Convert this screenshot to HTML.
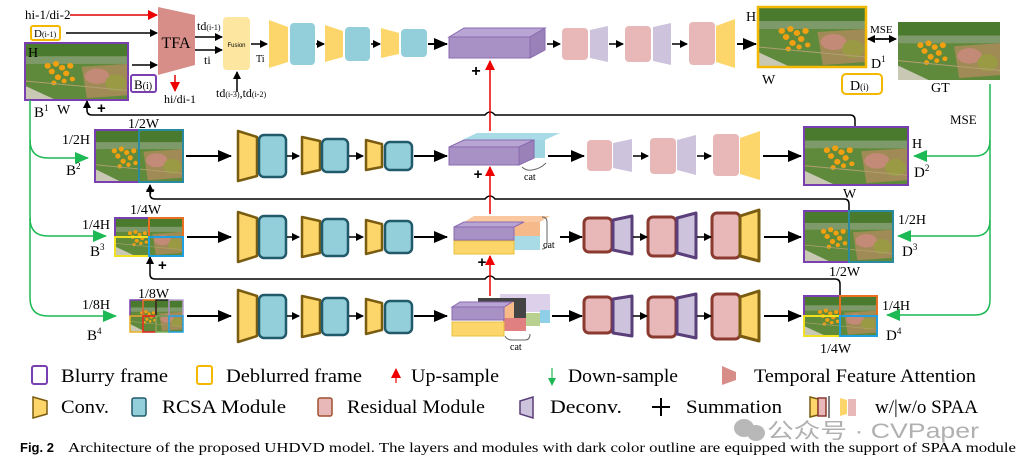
<!DOCTYPE html>
<html><head><meta charset="utf-8"><style>
html,body{margin:0;padding:0;background:#fff;}
svg{display:block;font-family:"Liberation Serif",serif;}
</style></head><body>
<svg width="1033" height="468" viewBox="0 0 1033 468" xmlns="http://www.w3.org/2000/svg">
<defs>
<marker id="ab" markerWidth="8" markerHeight="8" refX="7" refY="4" orient="auto" markerUnits="userSpaceOnUse"><path d="M0,0 L8,4 L0,8 Z" fill="#000"/></marker>
<marker id="abL" markerWidth="14" markerHeight="12" refX="13" refY="6" orient="auto" markerUnits="userSpaceOnUse"><path d="M0,0 L14,6 L0,12 Z" fill="#000"/></marker>
<marker id="ar" markerWidth="10" markerHeight="10" refX="9" refY="5" orient="auto" markerUnits="userSpaceOnUse"><path d="M0,0 L10,5 L0,10 Z" fill="#e00"/></marker>
<marker id="ag" markerWidth="14" markerHeight="12" refX="13" refY="6" orient="auto" markerUnits="userSpaceOnUse"><path d="M0,0 L14,6 L0,12 Z" fill="#1db954"/></marker>
<symbol id="ph" viewBox="0 0 100 60" preserveAspectRatio="none">
<rect width="100" height="60" fill="#5f8a3c"/>
<rect width="100" height="14" fill="#4a7a2e"/>
<rect y="14" width="100" height="8" fill="#7f9a6a"/>
<path d="M0,45 L30,60 L0,60Z" fill="#c8c8b4"/>
<path d="M55,25 L100,22 L100,55 L60,58Z" fill="#a08a55"/>
<ellipse cx="70" cy="35" rx="12" ry="8" fill="#c48a78"/>
<ellipse cx="88" cy="42" rx="10" ry="9" fill="#9a9a45"/>
<g fill="#f0a010">
<circle cx="30" cy="22" r="3"/><circle cx="36" cy="26" r="3"/><circle cx="26" cy="30" r="3"/><circle cx="40" cy="32" r="3"/><circle cx="32" cy="36" r="3"/><circle cx="44" cy="24" r="3"/><circle cx="22" cy="24" r="3"/><circle cx="38" cy="40" r="2.5"/><circle cx="28" cy="42" r="2.5"/><circle cx="46" cy="38" r="2.5"/></g>
<path d="M0,40 L100,50" stroke="#b0a070" stroke-width="1"/>
</symbol>
</defs>

<!-- Row 1 inputs -->
<text x="25" y="19" font-size="13">hi-1/di-2</text>
<line x1="70" y1="15" x2="157" y2="15" stroke="#d00" stroke-width="1.5" marker-end="url(#ar)"/>
<rect x="31" y="26" width="29" height="14" rx="2" fill="none" stroke="#f5b800" stroke-width="2"/>
<text x="34" y="37" font-size="11">D<tspan font-size="8">(i-1)</tspan></text>
<line x1="66" y1="33" x2="157" y2="33" stroke="#000" stroke-width="1.5" marker-end="url(#ab)"/>
<use href="#ph" x="25" y="43" width="103" height="57"/>
<rect x="25" y="43" width="103" height="57" fill="none" stroke="#7a3fb0" stroke-width="2"/>
<text x="28" y="57" font-size="14">H</text>
<line x1="132" y1="65" x2="157" y2="65" stroke="#000" stroke-width="1.5" marker-end="url(#ab)"/>
<rect x="131" y="75" width="25" height="17" rx="2" fill="none" stroke="#7a3fb0" stroke-width="2"/>
<text x="134" y="89" font-size="13">B<tspan font-size="10">(i)</tspan></text>
<text x="34" y="117" font-size="15">B<tspan font-size="9" dy="-6">1</tspan></text>
<text x="57" y="114" font-size="14">W</text>
<!-- TFA -->
<polygon points="158,7 195,15 195,65 158,75" fill="#d88e88"/>
<text x="176" y="48" font-size="16" text-anchor="middle">TFA</text>
<line x1="195" y1="37" x2="222" y2="37" stroke="#000" stroke-width="1.5" marker-end="url(#ab)"/>
<line x1="195" y1="50" x2="222" y2="50" stroke="#000" stroke-width="1.5" marker-end="url(#ab)"/>
<text x="197" y="30" font-size="12">td<tspan font-size="8">(i-1)</tspan></text>
<text x="204" y="64" font-size="12">ti</text>
<line x1="175" y1="75" x2="175" y2="91" stroke="#d00" stroke-width="1.5" marker-end="url(#ar)"/>
<text x="164" y="103" font-size="12">hi/di-1</text>
<rect x="223" y="17" width="27" height="53" rx="4" fill="#fde7a0"/>
<text x="236.5" y="47" font-size="6" text-anchor="middle" font-family="Liberation Sans,sans-serif">Fusion</text>
<line x1="237" y1="92" x2="237" y2="72" stroke="#000" stroke-width="1.5" marker-end="url(#ab)"/>
<text x="216" y="97" font-size="12">td<tspan font-size="8">(i-3)</tspan>,td<tspan font-size="8">(i-2)</tspan></text>
<line x1="251" y1="44" x2="267" y2="44" stroke="#000" stroke-width="1.5" marker-end="url(#ab)"/>
<text x="256" y="62" font-size="10">Ti</text>

<!-- Row1 encoder light -->
<g>
<polygon points="269,20 288,27 288,62 269,68" fill="#fcd66a"/>
<rect x="290" y="23" width="25" height="42" rx="4" fill="#93cfda"/>
<line x1="316" y1="44" x2="324" y2="44" stroke="#000" stroke-width="1.5" marker-end="url(#ab)"/>
<polygon points="325,25 343,31 343,57 325,62" fill="#fcd66a"/>
<rect x="345" y="27" width="25" height="34" rx="4" fill="#93cfda"/>
<line x1="371" y1="44" x2="380" y2="44" stroke="#000" stroke-width="1.5" marker-end="url(#ab)"/>
<polygon points="381,28 399,33 399,54 381,58" fill="#fcd66a"/>
<rect x="401" y="29" width="26" height="28" rx="4" fill="#93cfda"/>
<line x1="428" y1="44" x2="447" y2="44" stroke="#000" stroke-width="2" marker-end="url(#abL)"/>
</g>
<!-- Row1 cube -->
<polygon points="449,37 464,28 545,28 530,37" fill="#b9a5d3" stroke="#8a6bb0"/>
<rect x="449" y="37" width="81" height="21" fill="#a891c4" stroke="#8a6bb0"/>
<polygon points="530,37 545,28 545,50 530,58" fill="#9a82b8" stroke="#8a6bb0"/>
<text x="476" y="76" font-size="16" font-weight="bold" text-anchor="middle" font-family="Liberation Sans,sans-serif">+</text>
<line x1="547" y1="44" x2="560" y2="44" stroke="#000" stroke-width="1.5" marker-end="url(#ab)"/>
<!-- Row1 decoder light -->
<rect x="562" y="28" width="26" height="32" rx="4" fill="#e8b8b8"/>
<polygon points="590,30 608,26 608,62 590,58" fill="#cdc3dc"/>
<line x1="609" y1="44" x2="623" y2="44" stroke="#000" stroke-width="1.5" marker-end="url(#ab)"/>
<rect x="625" y="26" width="26" height="36" rx="4" fill="#e8b8b8"/>
<polygon points="653,27 671,23 671,65 653,61" fill="#cdc3dc"/>
<line x1="672" y1="44" x2="687" y2="44" stroke="#000" stroke-width="1.5" marker-end="url(#ab)"/>
<rect x="689" y="22" width="26" height="43" rx="4" fill="#e8b8b8"/>
<polygon points="716,26 735,19 735,68 716,62" fill="#fcd66a"/>
<line x1="737" y1="44" x2="756" y2="44" stroke="#000" stroke-width="2" marker-end="url(#abL)"/>
<!-- D1 & GT -->
<use href="#ph" x="758" y="7" width="108" height="60"/>
<rect x="758" y="7" width="108" height="60" fill="none" stroke="#f5b800" stroke-width="2.5"/>
<text x="746" y="21" font-size="14">H</text>
<text x="762" y="84" font-size="14">W</text>
<text x="871" y="68" font-size="14">D<tspan font-size="9" dy="-6">1</tspan></text>
<rect x="842" y="74" width="40" height="20" rx="4" fill="none" stroke="#f5b800" stroke-width="2"/>
<text x="850" y="90" font-size="14">D<tspan font-size="9">(i)</tspan></text>
<text x="870" y="33" font-size="11">MSE</text>
<line x1="876" y1="39" x2="896" y2="39" stroke="#000" stroke-width="1.5" marker-end="url(#ab)"/>
<line x1="890" y1="39" x2="868" y2="39" stroke="#000" stroke-width="1.5" marker-end="url(#ab)"/>
<use href="#ph" x="898" y="22" width="102" height="58"/>
<text x="931" y="92" font-size="14">GT</text>

<!-- Feedback lines -->
<g fill="none" stroke="#000" stroke-width="1.5">
<path d="M855,127 V120 Q855,115 850,115 H495 Q490,109 485,115 H92 Q87,115 87,110 V101" marker-end="url(#ab)"/>
<path d="M849,210 V204 Q849,199 844,199 H495 Q490,193 485,199 H155 Q150,199 150,194 V185" marker-end="url(#ab)"/>
<path d="M840,296 V284 Q840,279 835,279 H495 Q490,273 485,279 H155 Q150,279 150,274 V257" marker-end="url(#ab)"/>
</g>
<text x="97" y="113" font-size="15" font-weight="bold" font-family="Liberation Sans,sans-serif">+</text>
<text x="146" y="195" font-size="15" font-weight="bold" font-family="Liberation Sans,sans-serif">+</text>
<text x="158" y="270" font-size="15" font-weight="bold" font-family="Liberation Sans,sans-serif">+</text>
<!-- Red upsample arrows -->
<line x1="490" y1="131" x2="490" y2="61" stroke="#e00" stroke-width="1.5" marker-end="url(#ar)"/>
<line x1="490" y1="214" x2="490" y2="167" stroke="#e00" stroke-width="1.5" marker-end="url(#ar)"/>
<line x1="490" y1="296" x2="490" y2="256" stroke="#e00" stroke-width="1.5" marker-end="url(#ar)"/>
<text x="478" y="179" font-size="15" font-weight="bold" text-anchor="middle" font-family="Liberation Sans,sans-serif">+</text>
<text x="482" y="267" font-size="15" font-weight="bold" text-anchor="middle" font-family="Liberation Sans,sans-serif">+</text>

<!-- Green lines -->
<g fill="none" stroke="#1db954" stroke-width="1.5">
<path d="M30,100 V298 Q30,316 48,316 H116" marker-end="url(#ag)"/>
<path d="M30,140 Q30,158 48,158 H88" marker-end="url(#ag)"/>
<path d="M30,218 Q30,236 48,236 H106" marker-end="url(#ag)"/>
<path d="M990,84 V300 Q990,315 975,315 H887" marker-end="url(#ag)"/>
<path d="M990,140 Q990,156 975,156 H914" marker-end="url(#ag)"/>
<path d="M990,220 Q990,236 975,236 H898" marker-end="url(#ag)"/>
</g>
<text x="950" y="124" font-size="13">MSE</text>

<!-- Row 2 -->
<text x="128" y="128" font-size="14">1/2W</text>
<text x="62" y="144" font-size="14">1/2H</text>
<text x="66" y="175" font-size="15">B<tspan font-size="9" dy="-6">2</tspan></text>
<use href="#ph" x="95" y="130" width="88" height="52"/>
<rect x="95" y="130" width="44" height="52" fill="none" stroke="#7a3fb0" stroke-width="2"/>
<rect x="139" y="130" width="44" height="52" fill="none" stroke="#2a8aa0" stroke-width="2"/>
<line x1="186" y1="156" x2="231" y2="156" stroke="#000" stroke-width="2" marker-end="url(#abL)"/>
<g stroke-width="2.5" stroke-linejoin="round">
<polygon points="238,131 257,137 257,176 238,181" fill="#fcd66a" stroke="#7a5c10"/>
<rect x="259" y="135" width="27" height="42" rx="5" fill="#93cfda" stroke="#215a6a"/>
<polygon points="302,137 320,141 320,170 302,174" fill="#fcd66a" stroke="#7a5c10"/>
<rect x="322" y="139" width="26" height="33" rx="5" fill="#93cfda" stroke="#215a6a"/>
<polygon points="366,140 382,144 382,167 366,170" fill="#fcd66a" stroke="#7a5c10"/>
<rect x="385" y="142" width="27" height="28" rx="5" fill="#93cfda" stroke="#215a6a"/>
</g>
<line x1="287" y1="156" x2="299" y2="156" stroke="#000" stroke-width="1.5" marker-end="url(#ab)"/>
<line x1="349" y1="156" x2="363" y2="156" stroke="#000" stroke-width="1.5" marker-end="url(#ab)"/>
<line x1="414" y1="156" x2="447" y2="156" stroke="#000" stroke-width="2" marker-end="url(#abL)"/>
<!-- row2 cube -->
<polygon points="462,140 477,133 560,133 545,140" fill="#a9dbe6"/>
<rect x="462" y="140" width="83" height="18" fill="#9fd6e2"/>
<polygon points="449,147 464,140 534,140 519,147" fill="#b9a5d3" stroke="#8a6bb0"/>
<rect x="449" y="147" width="70" height="18" fill="#a891c4" stroke="#8a6bb0"/>
<polygon points="519,147 534,140 534,158 519,165" fill="#9a82b8" stroke="#8a6bb0"/>
<path d="M522,167 Q526,171 532,170 Q540,169 546,163" fill="none" stroke="#666"/>
<text x="524" y="180" font-size="10">cat</text>
<line x1="548" y1="156" x2="584" y2="156" stroke="#000" stroke-width="2" marker-end="url(#abL)"/>
<rect x="587" y="140" width="25" height="31" rx="4" fill="#e8b8b8"/>
<polygon points="613,143 632,139 632,172 613,168" fill="#cdc3dc"/>
<line x1="633" y1="156" x2="648" y2="156" stroke="#000" stroke-width="1.5" marker-end="url(#ab)"/>
<rect x="650" y="138" width="26" height="36" rx="4" fill="#e8b8b8"/>
<polygon points="677,140 696,135 696,175 677,170" fill="#cdc3dc"/>
<line x1="697" y1="156" x2="711" y2="156" stroke="#000" stroke-width="1.5" marker-end="url(#ab)"/>
<rect x="713" y="134" width="26" height="42" rx="4" fill="#e8b8b8"/>
<polygon points="740,138 760,131 760,180 740,174" fill="#fcd66a"/>
<line x1="763" y1="156" x2="801" y2="156" stroke="#000" stroke-width="2" marker-end="url(#abL)"/>
<use href="#ph" x="804" y="127" width="104" height="58"/>
<rect x="804" y="127" width="104" height="58" fill="none" stroke="#7a3fb0" stroke-width="2"/>
<text x="912" y="148" font-size="14">H</text>
<text x="914" y="177" font-size="15">D<tspan font-size="9" dy="-6">2</tspan></text>
<text x="843" y="198" font-size="14">W</text>

<!-- Row 3 -->
<text x="130" y="214" font-size="14">1/4W</text>
<text x="82" y="229" font-size="14">1/4H</text>
<text x="90" y="256" font-size="15">B<tspan font-size="9" dy="-6">3</tspan></text>
<use href="#ph" x="115" y="218" width="68" height="38"/>
<rect x="115" y="218" width="34" height="19" fill="none" stroke="#7a3fb0" stroke-width="2"/>
<rect x="149" y="218" width="34" height="19" fill="none" stroke="#e87020" stroke-width="2"/>
<rect x="115" y="237" width="34" height="19" fill="none" stroke="#f0e020" stroke-width="2"/>
<rect x="149" y="237" width="34" height="19" fill="none" stroke="#20a0e0" stroke-width="2"/>
<line x1="187" y1="237" x2="231" y2="237" stroke="#000" stroke-width="2" marker-end="url(#abL)"/>
<g stroke-width="2.5" stroke-linejoin="round">
<polygon points="238,212 257,218 257,256 238,262" fill="#fcd66a" stroke="#7a5c10"/>
<rect x="259" y="216" width="27" height="42" rx="5" fill="#93cfda" stroke="#215a6a"/>
<polygon points="302,217 320,221 320,253 302,257" fill="#fcd66a" stroke="#7a5c10"/>
<rect x="322" y="219" width="26" height="37" rx="5" fill="#93cfda" stroke="#215a6a"/>
<polygon points="366,220 382,224 382,250 366,254" fill="#fcd66a" stroke="#7a5c10"/>
<rect x="385" y="221" width="27" height="32" rx="5" fill="#93cfda" stroke="#215a6a"/>
</g>
<line x1="287" y1="237" x2="299" y2="237" stroke="#000" stroke-width="1.5" marker-end="url(#ab)"/>
<line x1="349" y1="237" x2="363" y2="237" stroke="#000" stroke-width="1.5" marker-end="url(#ab)"/>
<line x1="414" y1="237" x2="447" y2="237" stroke="#000" stroke-width="2" marker-end="url(#abL)"/>
<!-- row3 stack -->
<polygon points="464,222 474,216 550,216 540,222" fill="#f9c8a0"/>
<rect x="464" y="222" width="76" height="14" fill="#f6b98a"/>
<rect x="464" y="236" width="76" height="14" fill="#a9dbe6"/>
<polygon points="454,227 464,222 524,222 514,227" fill="#b9a5d3" stroke="#8a6bb0"/>
<rect x="454" y="227" width="60" height="13" fill="#a891c4" stroke="#8a6bb0"/>
<rect x="454" y="241" width="60" height="13" fill="#fcd66a" stroke="#e8c040"/>
<path d="M542,217 Q547,217 547,222 V244 Q547,249 542,249" fill="none" stroke="#666"/>
<text x="543" y="248" font-size="10">cat</text>
<line x1="560" y1="237" x2="582" y2="237" stroke="#000" stroke-width="2" marker-end="url(#abL)"/>
<g stroke-width="3" stroke-linejoin="round">
<rect x="584" y="218" width="28" height="34" rx="5" fill="#e8b8b8" stroke="#8b3a30"/>
<polygon points="613,220 632,216 632,254 613,250" fill="#cdc3dc" stroke="#5a3f7a"/>
<rect x="648" y="217" width="28" height="39" rx="5" fill="#e8b8b8" stroke="#8b3a30"/>
<polygon points="677,218 696,213 696,258 677,253" fill="#cdc3dc" stroke="#5a3f7a"/>
<rect x="712" y="213" width="28" height="45" rx="5" fill="#e8b8b8" stroke="#8b3a30"/>
<polygon points="740,216 759,210 759,261 740,256" fill="#fcd66a" stroke="#7a5c10"/>
</g>
<line x1="633" y1="237" x2="647" y2="237" stroke="#000" stroke-width="1.5" marker-end="url(#ab)"/>
<line x1="697" y1="237" x2="711" y2="237" stroke="#000" stroke-width="1.5" marker-end="url(#ab)"/>
<line x1="764" y1="237" x2="801" y2="237" stroke="#000" stroke-width="2" marker-end="url(#abL)"/>
<use href="#ph" x="804" y="211" width="89" height="51"/>
<rect x="804" y="211" width="45" height="51" fill="none" stroke="#7a3fb0" stroke-width="2"/>
<rect x="849" y="211" width="44" height="51" fill="none" stroke="#2a8aa0" stroke-width="2"/>
<text x="898" y="224" font-size="14">1/2H</text>
<text x="902" y="256" font-size="15">D<tspan font-size="9" dy="-6">3</tspan></text>
<text x="829" y="276" font-size="14">1/2W</text>

<!-- Row 4 -->
<text x="138" y="298" font-size="14">1/8W</text>
<text x="82" y="309" font-size="14">1/8H</text>
<text x="87" y="340" font-size="15">B<tspan font-size="9" dy="-6">4</tspan></text>
<use href="#ph" x="130" y="300" width="53" height="32"/>
<g fill="none" stroke-width="1.5">
<rect x="130" y="300" width="13" height="16" stroke="#7a3fb0"/>
<rect x="143" y="300" width="13" height="16" stroke="#e87020"/>
<rect x="156" y="300" width="13" height="16" stroke="#222"/>
<rect x="169" y="300" width="14" height="16" stroke="#b8a0d0"/>
<rect x="130" y="316" width="13" height="16" stroke="#e8b020"/>
<rect x="143" y="316" width="13" height="16" stroke="#e02020"/>
<rect x="156" y="316" width="13" height="16" stroke="#80b060"/>
<rect x="169" y="316" width="14" height="16" stroke="#20a0e0"/>
</g>
<line x1="187" y1="316" x2="231" y2="316" stroke="#000" stroke-width="2" marker-end="url(#abL)"/>
<g stroke-width="2.5" stroke-linejoin="round">
<polygon points="238,290 257,296 257,336 238,342" fill="#fcd66a" stroke="#7a5c10"/>
<rect x="259" y="295" width="27" height="43" rx="5" fill="#93cfda" stroke="#215a6a"/>
<polygon points="302,296 320,300 320,333 302,337" fill="#fcd66a" stroke="#7a5c10"/>
<rect x="322" y="298" width="26" height="37" rx="5" fill="#93cfda" stroke="#215a6a"/>
<polygon points="366,299 382,303 382,330 366,334" fill="#fcd66a" stroke="#7a5c10"/>
<rect x="385" y="301" width="27" height="32" rx="5" fill="#93cfda" stroke="#215a6a"/>
</g>
<line x1="287" y1="316" x2="299" y2="316" stroke="#000" stroke-width="1.5" marker-end="url(#ab)"/>
<line x1="349" y1="316" x2="363" y2="316" stroke="#000" stroke-width="1.5" marker-end="url(#ab)"/>
<line x1="414" y1="316" x2="447" y2="316" stroke="#000" stroke-width="2" marker-end="url(#abL)"/>
<!-- row4 stack -->
<rect x="500" y="294" width="50" height="18" fill="#ddd0ea"/>
<rect x="540" y="310" width="10" height="13" fill="#8fd0e8"/>
<rect x="478" y="298" width="48" height="20" fill="#444"/>
<rect x="526" y="313" width="14" height="13" fill="#b8d090"/>
<rect x="464" y="302" width="50" height="18" fill="#f6b98a"/>
<rect x="503" y="318" width="23" height="13" fill="#e08080"/>
<polygon points="452,307 460,302 512,302 504,307" fill="#b9a5d3" stroke="#8a6bb0"/>
<rect x="452" y="307" width="52" height="13" fill="#a891c4" stroke="#8a6bb0"/>
<rect x="452" y="322" width="52" height="14" fill="#fcd66a" stroke="#e8c040"/>
<path d="M505,336 Q507,340 512,340 H525 Q530,340 530,334" fill="none" stroke="#666"/>
<text x="510" y="350" font-size="10">cat</text>
<line x1="552" y1="316" x2="582" y2="316" stroke="#000" stroke-width="2" marker-end="url(#abL)"/>
<g stroke-width="3" stroke-linejoin="round">
<rect x="584" y="297" width="28" height="36" rx="5" fill="#e8b8b8" stroke="#8b3a30"/>
<polygon points="613,299 632,296 632,336 613,333" fill="#cdc3dc" stroke="#5a3f7a"/>
<rect x="648" y="297" width="28" height="40" rx="5" fill="#e8b8b8" stroke="#8b3a30"/>
<polygon points="677,298 696,294 696,338 677,334" fill="#cdc3dc" stroke="#5a3f7a"/>
<rect x="712" y="294" width="28" height="45" rx="5" fill="#e8b8b8" stroke="#8b3a30"/>
<polygon points="740,297 759,291 759,341 740,336" fill="#fcd66a" stroke="#7a5c10"/>
</g>
<line x1="633" y1="316" x2="647" y2="316" stroke="#000" stroke-width="1.5" marker-end="url(#ab)"/>
<line x1="697" y1="316" x2="711" y2="316" stroke="#000" stroke-width="1.5" marker-end="url(#ab)"/>
<line x1="764" y1="316" x2="801" y2="316" stroke="#000" stroke-width="2" marker-end="url(#abL)"/>
<use href="#ph" x="804" y="296" width="73" height="40"/>
<g fill="none" stroke-width="2">
<rect x="804" y="296" width="36" height="20" stroke="#7a3fb0"/>
<rect x="840" y="296" width="37" height="20" stroke="#e87020"/>
<rect x="804" y="316" width="36" height="20" stroke="#f0e020"/>
<rect x="840" y="316" width="37" height="20" stroke="#20a0e0"/>
</g>
<text x="882" y="310" font-size="14">1/4H</text>
<text x="886" y="340" font-size="15">D<tspan font-size="9" dy="-6">4</tspan></text>
<text x="820" y="353" font-size="14">1/4W</text>

<!-- Legend row 1 -->
<g font-size="19">
<rect x="32" y="366" width="15" height="18" rx="2" fill="none" stroke="#7a3fb0" stroke-width="2"/>
<text x="61" y="382" textLength="107" lengthAdjust="spacingAndGlyphs">Blurry frame</text>
<rect x="197" y="366" width="15" height="18" rx="2" fill="none" stroke="#f5b800" stroke-width="2"/>
<text x="226" y="382" textLength="136" lengthAdjust="spacingAndGlyphs">Deblurred frame</text>
<line x1="396" y1="383" x2="396" y2="369" stroke="#e00" stroke-width="1.2" marker-end="url(#ar)"/>
<text x="411" y="382" textLength="88" lengthAdjust="spacingAndGlyphs">Up-sample</text>
<line x1="552" y1="368" x2="552" y2="384" stroke="#1db954" stroke-width="1.2"/>
<polygon points="548,378 556,378 552,386" fill="#1db954"/>
<text x="568" y="382" textLength="110" lengthAdjust="spacingAndGlyphs">Down-sample</text>
<polygon points="722,366 736,372 736,380 722,385" fill="#d88e88"/>
<text x="754" y="382" textLength="222" lengthAdjust="spacingAndGlyphs">Temporal Feature Attention</text>
</g>
<!-- Legend row 2 -->
<g font-size="19">
<polygon points="33,397 47,401 47,414 33,418" fill="#fcd66a" stroke="#7a5c10" stroke-width="1.5"/>
<text x="61" y="413" textLength="48" lengthAdjust="spacingAndGlyphs">Conv.</text>
<rect x="132" y="398" width="14" height="18" rx="2" fill="#93cfda" stroke="#215a6a" stroke-width="1.5"/>
<text x="162" y="413" textLength="124" lengthAdjust="spacingAndGlyphs">RCSA Module</text>
<rect x="318" y="398" width="14" height="18" rx="2" fill="#e8b8b8" stroke="#a05030" stroke-width="1.5"/>
<text x="347" y="413" textLength="138" lengthAdjust="spacingAndGlyphs">Residual Module</text>
<polygon points="520,401 533,397 533,418 520,414" fill="#cdc3dc" stroke="#5a3f7a" stroke-width="1.5"/>
<text x="550" y="413" textLength="72" lengthAdjust="spacingAndGlyphs">Deconv.</text>
<path d="M661,398 V416 M652,407 H670" stroke="#000" stroke-width="2"/>
<text x="686" y="413" textLength="96" lengthAdjust="spacingAndGlyphs">Summation</text>
<polygon points="810,397 818,399 818,415 810,417" fill="#fcd66a" stroke="#7a5c10" stroke-width="1.5"/>
<rect x="818" y="398" width="8" height="18" fill="#e8b8b8" stroke="#8b3a30" stroke-width="1.5"/>
<line x1="829" y1="396" x2="829" y2="418" stroke="#000"/>
<polygon points="840,398 847,400 847,414 840,416" fill="#fcd66a"/>
<rect x="848" y="399" width="8" height="17" fill="#e8b8b8"/>
<text x="875" y="413" textLength="103" lengthAdjust="spacingAndGlyphs">w/|w/o SPAA</text>
</g>
<!-- watermark -->
<g fill="#b8b8b8">
<ellipse cx="744" cy="428" rx="10" ry="9"/>
<ellipse cx="756" cy="433" rx="9" ry="8"/>
</g>
<text x="767" y="438" font-size="21" fill="#b0b0b0" font-family="Liberation Sans,'Noto Sans CJK SC',sans-serif" textLength="212" lengthAdjust="spacingAndGlyphs">公众号 · CVPaper</text>
<!-- caption -->
<text x="20" y="452" font-size="13" font-weight="bold" font-family="Liberation Sans,sans-serif">Fig. 2</text>
<text x="68" y="452" font-size="14" textLength="948" lengthAdjust="spacingAndGlyphs">Architecture of the proposed UHDVD model. The layers and modules with dark color outline are equipped with the support of SPAA module</text>
</svg>
</body></html>
